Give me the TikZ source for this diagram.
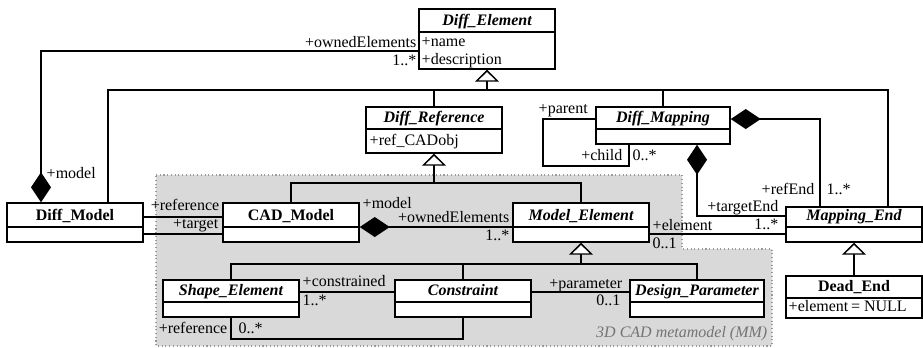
\documentclass[tikz,border=0pt]{standalone}
\usepackage{fontspec}
\setmainfont{Liberation Serif}
\usetikzlibrary{arrows.meta,fit}

\tikzset{
    classbox/.style={draw, fill=white, inner sep=0pt},
    ctitle/.style={font=\fontsize{12}{14}\selectfont\bfseries},
    lbl/.style={font=\fontsize{12}{14}\selectfont},
    inherit/.style={-{Triangle[width=18pt, length=9pt, fill=white]}},
    compose/.style={-{Diamond[width=15pt, length=22.5pt, fill=black]}},
}

% class box: name, x1, y1, x2, y2, y of divider, title
\newcommand{\umlclass}[7]{%
    \node[classbox, fit={(#2,#3) (#4,#5)}] (#1) {};
    \draw (#2,#6) -- (#4,#6);
    \node[ctitle, anchor=base] (#1-title) at ({(#2+#4)/2},{#6-7}) {#7};
}

\begin{document}
\begin{tikzpicture}[x=0.75pt, y=-0.75pt, line width=1.1pt, every node/.style={inner sep=0pt}]
        \useasboundingbox (0,0) rectangle (923,347);

        % 3D CAD metamodel area
        \fill[black!15] (156,175) -- (682,175) -- (682,249) -- (772,249) -- (772,346) -- (156,346) -- cycle;
        \draw[black!40, dotted, line width=0.8pt] (156,175) -- (682,175) -- (682,249) -- (772,249) -- (772,346) -- (156,346) -- cycle;
        \node[lbl, anchor=base east, text=black!55] (mm) at (768,337) {\itshape 3D CAD metamodel (MM)};

        % classes
        \umlclass{delem}{419}{9}{555}{69}{32}{\itshape Diff\_Element}
        \umlclass{dref}{366}{107}{502}{153}{129}{\itshape Diff\_Reference}
        \umlclass{dmap}{596}{107}{730}{144}{129}{\itshape Diff\_Mapping}
        \umlclass{dmodel}{7}{203}{143}{242}{227}{Diff\_Model}
        \umlclass{cad}{223}{203}{359}{242}{227}{CAD\_Model}
        \umlclass{melem}{513}{203}{649}{242}{227}{\itshape Model\_Element}
        \umlclass{mend}{786}{207}{922}{242}{227}{\itshape Mapping\_End}
        \umlclass{shape}{163}{280}{299}{317}{302}{\itshape Shape\_Element}
        \umlclass{constr}{395}{280}{531}{317}{302}{\itshape Constraint}
        \umlclass{dparam}{630}{280}{764}{317}{302}{\itshape Design\_Parameter}
        \umlclass{dend}{786}{276}{922}{318}{298}{Dead\_End}

        % attributes
        \node[lbl, anchor=base west] (delem-a1) at (421,46.5) {+name};
        \node[lbl, anchor=base west] (delem-a2) at (421,64.5) {+description};
        \node[lbl, anchor=base west] (dref-a1) at (369,145) {+ref\_CADobj};
        \node[lbl, anchor=base west] (dend-a1) at (788,311.5) {+element\,= NULL};

        % generalisations
        \coordinate (busL) at (108,90);
        \coordinate (busR) at (888,90);
        \draw (busL |- dmodel.north) -- (busL) -- (busR) -- (busR |- mend.north);
        \draw (dref.north) -- (dref.north |- busL);
        \draw (dmap.north) -- (dmap.north |- busL);
        \draw[inherit] (delem.south |- busL) -- (delem.south);

        \coordinate (bus2) at (434,183);
        \draw (cad.north) |- (bus2) -| (melem.north);
        \draw[inherit] (dref.south |- bus2) -- (dref.south);

        \coordinate (bus3) at (581,264);
        \draw (shape.north) |- (bus3) -| (dparam.north);
        \draw (constr.north) -- (constr.north |- bus3);
        \draw[inherit] (melem.south |- bus3) -- (melem.south);

        \draw[inherit] (dend.north) -- (mend.south);

        % associations
        \coordinate (own) at (41,51);
        \draw[compose] (delem.west |- own) -- (own) -- (own |- dmodel.north);
        \node[lbl, anchor=base east] (own-r) at (417,47) {+ownedElements};
        \node[lbl, anchor=base east] (own-m) at (417,65) {1..*};
        \node[lbl, anchor=base west] (own-l) at (46,178) {+model};

        \draw ([yshift=4.125pt]dmodel.east) -- ([yshift=4.125pt]cad.west);
        \draw ([yshift=-8.625pt]dmodel.east) -- ([yshift=-8.625pt]cad.west);
        \node[lbl, anchor=base east] (ref-r) at (220,210) {+reference};
        \node[lbl, anchor=base east] (tgt-r) at (219,228) {+target};

        \draw[compose] ([yshift=-3.375pt]melem.west) -- ([yshift=-3.375pt]cad.east);
        \node[lbl, anchor=base west] (cm-l) at (362,208) {+model};
        \node[lbl, anchor=base east] (cm-r) at (510,222.5) {+ownedElements};
        \node[lbl, anchor=base east] (cm-m) at (510,240) {1..*};

        \coordinate (el) at ([yshift=-8.625pt]melem.east);
        \draw (el) -- (el -| mend.west);
        \node[lbl, anchor=base west] (el-r) at (652,230) {+element};
        \node[lbl, anchor=base west] (el-m) at (652,248) {0..1};
        \node[lbl, anchor=base east] (el-n) at (779,229) {1..*};

        \coordinate (tgt) at (697,216);
        \draw[compose] (tgt -| mend.west) -- (tgt) -- (tgt |- dmap.south);
        \node[lbl, anchor=base east] (tgt-e) at (779,211) {+targetEnd};

        \coordinate (refc) at (820,119);
        \draw[compose] (refc |- mend.north) -- (refc) -- (refc -| dmap.east);
        \node[lbl, anchor=base east] (refc-r) at (815,194) {+refEnd};
        \node[lbl, anchor=base west] (refc-m) at (826,194) {1..*};

        \coordinate (par) at (543,119);
        \coordinate (chi) at (629,166);
        \draw (dmap.west |- par) -- (par) |- (chi) -- (chi |- dmap.south);
        \node[lbl, anchor=base west] (par-r) at (538,113) {+parent};
        \node[lbl, anchor=base east] (chi-r) at (623,160) {+child};
        \node[lbl, anchor=base west] (chi-m) at (632,160) {0..*};

        \coordinate (cons) at ([yshift=4.875pt]shape.east);
        \draw (cons) -- (cons -| constr.west);
        \draw (cons -| constr.east) -- (cons -| dparam.west);
        \node[lbl, anchor=base west] (cons-r) at (302,286) {+constrained};
        \node[lbl, anchor=base west] (cons-m) at (302,305) {1..*};
        \node[lbl, anchor=base east] (prm-r) at (623,288) {+parameter};
        \node[lbl, anchor=base east] (prm-m) at (621,305) {0..1};

        \coordinate (loop) at (231,339);
        \draw (shape.south) -- (shape.south |- loop) -| (constr.south);
        \node[lbl, anchor=base east] (loop-r) at (228,333) {+reference};
        \node[lbl, anchor=base west] (loop-m) at (238,333) {0..*};
    \end{tikzpicture}
\end{document}
